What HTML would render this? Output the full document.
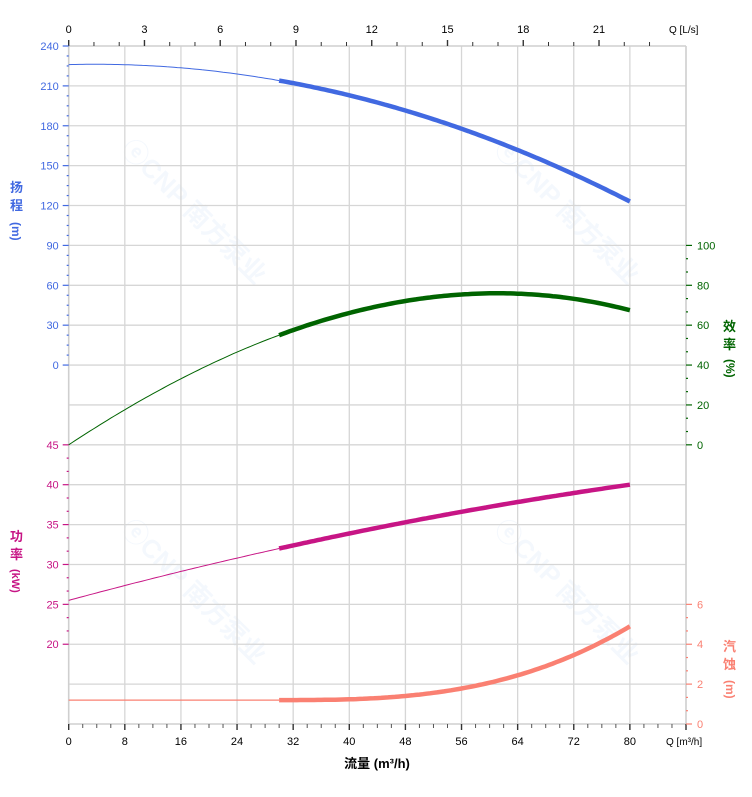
<!DOCTYPE html>
<html><head><meta charset="utf-8"><style>
html,body{margin:0;padding:0;background:#fff;}
svg{display:block;font-family:"Liberation Sans","Noto Sans CJK SC",sans-serif;}
</style></head><body>
<svg id="s" width="752" height="797" viewBox="0 0 752 797" xmlns="http://www.w3.org/2000/svg">
<g opacity="0.05" fill="#1e6fd0" font-weight="bold" font-size="26">
<text transform="translate(120,150) rotate(45)">ⓔCNP 南方泵业</text>
<text transform="translate(493,150) rotate(45)">ⓔCNP 南方泵业</text>
<text transform="translate(120,530) rotate(45)">ⓔCNP 南方泵业</text>
<text transform="translate(493,530) rotate(45)">ⓔCNP 南方泵业</text>
</g>
<g id="g"></g>
<text x="10" y="192" fill="#4169e1" font-size="13" font-weight="bold">扬</text>
<text x="10" y="210" fill="#4169e1" font-size="13" font-weight="bold">程</text>
<text transform="translate(12,222) rotate(90)" fill="#4169e1" font-size="12" font-weight="bold">(m)</text>
<text x="10" y="541" fill="#c71585" font-size="13" font-weight="bold">功</text>
<text x="10" y="559" fill="#c71585" font-size="13" font-weight="bold">率</text>
<text transform="translate(12,569) rotate(90)" fill="#c71585" font-size="11" font-weight="bold">(kW)</text>
<text x="723" y="331" fill="#006400" font-size="13" font-weight="bold">效</text>
<text x="723" y="349" fill="#006400" font-size="13" font-weight="bold">率</text>
<text transform="translate(726,359) rotate(90)" fill="#006400" font-size="12" font-weight="bold">(%)</text>
<text x="723" y="651" fill="#fa8072" font-size="13" font-weight="bold">汽</text>
<text x="723" y="669" fill="#fa8072" font-size="13" font-weight="bold">蚀</text>
<text transform="translate(726,680) rotate(90)" fill="#fa8072" font-size="12" font-weight="bold">(m)</text>
<text x="377" y="768" text-anchor="middle" font-size="13" font-weight="bold" fill="#000">流量 (m³/h)</text>
<text x="666" y="745" font-size="10" fill="#000">Q [m³/h]</text>
<text x="669" y="33" font-size="10" fill="#000">Q [L/s]</text>
</svg>
<script>
var L=68.7,R=686,T=46,B=724,st=(B-T)/17,sx=(R-L)/88;
function X(q){return L+q*sx;}
var o='';
function ln(x1,y1,x2,y2,c,w){o+='<line x1="'+x1+'" y1="'+y1+'" x2="'+x2+'" y2="'+y2+'" stroke="'+c+'" stroke-width="'+w+'"/>';}
function tx(x,y,t,c,a){o+='<text x="'+x+'" y="'+y+'" fill="'+c+'" font-size="11" text-anchor="'+(a||'start')+'">'+t+'</text>';}
for(var i=1;i<17;i++)ln(L,T+i*st,R,T+i*st,'#d6d6d6',1.3);
for(var q=8;q<88;q+=8)ln(X(q),T,X(q),B,'#d6d6d6',1.3);
ln(R,T,R,B,'#cfcfcf',1.6);ln(L,T,R,T,'#cfcfcf',1.6);
ln(L,T,L,B,'#cfcfcf',1.6);ln(L,B,R,B,'#cfcfcf',1.6);
for(var q=0;q<=88;q+=2){var m=q%8==0;ln(X(q),B,X(q),B+(m?6:4),m?'#333':'#555',m?1.4:1);if(m&&q<=80)tx(X(q),745,q,'#000','middle');}
for(var l=0;l<=23;l++){var x=X(l*3.6),m=l%3==0;ln(x,T,x,T-(m?6:4),'#333',m?1.4:1);if(m)tx(x,33,l,'#000','middle');}
for(var k=0;k<=32;k++){var y=T+8*st-k*st/4,m=k%4==0;ln(L-(m?6:2),y,L,y,'#4169e1',1.2);if(m)tx(L-10,y+4,k*7.5,'#4169e1','end');}
for(var k=0;k<=15;k++){var y=T+10*st+k*st/3,m=k%3==0;ln(L-(m?6:2),y,L,y,'#c71585',1.2);if(m)tx(L-10,y+4,45-k/3*5,'#c71585','end');}
for(var k=0;k<=15;k++){var y=T+10*st-k*st/3,m=k%3==0;ln(R,y,R+(m?6:2),y,'#006400',1.2);if(m)tx(R+11,y+4,k/3*20,'#006400');}
for(var k=0;k<=9;k++){var y=B-k*st/3,m=k%3==0;ln(R,y,R+(m?6:2),y,'#fa8072',1.2);if(m)tx(R+11,y+4,k/3*2,'#fa8072');}
function path(f,yf,a,b,c,w){var d='';for(var q=a;q<=b+1e-9;q+=0.5){d+=(d?'L':'M')+X(q).toFixed(1)+','+yf(f(q)).toFixed(1);}o+='<path d="'+d+'" fill="none" stroke="'+c+'" stroke-width="'+w+'" stroke-linecap="butt"/>';}
var H=function(q){return 226+0.1325*q-0.01775*q*q},YH=function(h){return T+8*st-h*st/30};
var E=function(q){return 2.3205*q-0.01491*q*q-4.437e-5*q*q*q},YE=function(e){return T+10*st-e*st/20};
var P=function(q){return 25.5+0.2379*q-0.000708*q*q},YP=function(p){return T+10*st+(45-p)*st/5};
var N=function(q){return q<30?1.2:1.2+Math.pow(q-30,2.83)/Math.pow(31.5,2.83)},YN=function(n){return B-n*st/2};
path(H,YH,0,30,'#4169e1',1);path(H,YH,30,80,'#4169e1',4.5);
path(E,YE,0,30,'#006400',1);path(E,YE,30,80,'#006400',4.5);
path(P,YP,0,30,'#c71585',1);path(P,YP,30,80,'#c71585',4.5);
path(N,YN,0,30,'#fa8072',1.2);path(N,YN,30,80,'#fa8072',4.5);
document.getElementById('g').innerHTML=o;
</script>
</body></html>
